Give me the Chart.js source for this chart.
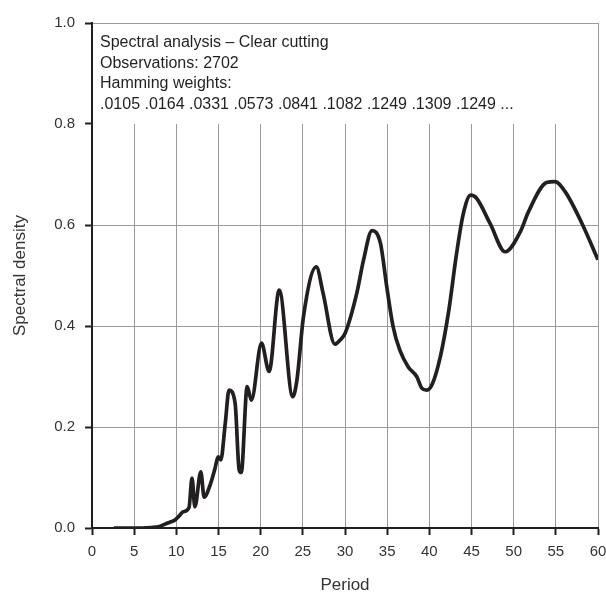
<!DOCTYPE html>
<html>
<head>
<meta charset="utf-8">
<script src="https://cdn.jsdelivr.net/npm/chart.js@4.4.1/dist/chart.umd.min.js"></script>
<style>
    html, body { margin: 0; padding: 0; background: #fff; }
    #wrap { width: 606px; height: 594px; position: relative; }
</style>
</head>
<body>
<div id="wrap"><canvas id="chartJS1"></canvas></div>
<script>
// period (x) and spectral density (y)
var periods = [2.6, 4, 5, 6, 7, 8, 8.7, 9.3, 9.85, 10.4, 10.8, 11.5, 11.86, 12.2, 12.9, 13.3, 14.0, 14.6, 14.95, 15.27,
    15.8, 16.25, 16.97, 17.45, 17.7, 18.4, 18.9, 20.1, 21.0, 22.2, 23.8, 24.3, 25.07, 26.6, 27.4, 28.8, 29.4, 30.0,
    31.4, 32.2, 33.2, 34.2, 34.95, 35.7, 36.5, 37.5, 38.5, 39.1, 39.7, 40.3, 41.3, 42.3, 43.2, 44.0, 44.9, 45.6,
    47.2, 49.0, 50.8, 51.75, 53.9, 54.9, 56.1, 58.1, 60.0];
var density = [0.000, 0.000, 0.000, 0.000, 0.001, 0.003, 0.008, 0.012, 0.016, 0.025, 0.032, 0.040, 0.099, 0.042, 0.111, 0.061, 0.085, 0.119, 0.141, 0.135,
    0.207, 0.273, 0.247, 0.115, 0.110, 0.280, 0.253, 0.366, 0.310, 0.471, 0.260, 0.293, 0.418, 0.517, 0.465, 0.364, 0.372, 0.385,
    0.465, 0.531, 0.589, 0.564, 0.478, 0.399, 0.352, 0.319, 0.300, 0.277, 0.273, 0.283, 0.339, 0.430, 0.540, 0.620, 0.659, 0.653,
    0.603, 0.547, 0.587, 0.626, 0.684, 0.686, 0.666, 0.603, 0.531];

var xTickStep = 5;
var yTickStep = 0.2;

var noteLines = [
    'Spectral analysis \u2013 Clear cutting',
    'Observations: 2702',
    'Hamming weights:',
    '.0105 .0164 .0331 .0573 .0841 .1082 .1249 .1309 .1249 ...'
];

var inkColor = '#231f20';
var gridColor = '#9a9a9a';
var fontFamily = '"Liberation Sans", Arial, sans-serif';

// build the point list for chart.js
var points = [];
for (var i = 0; i < periods.length; i++) {
    points.push({ x: periods[i], y: density[i] });
}

// blanks the grid above 0.8 and writes the note box
var notePlugin = {
    id: 'noteBox',
    beforeDatasetsDraw: function (chart) {
        var ctx = chart.ctx;
        var area = chart.chartArea;
        var yCut = chart.scales.y.getPixelForValue(0.8);
        ctx.save();
        ctx.fillStyle = '#ffffff';
        ctx.fillRect(area.left + 1, area.top + 1, area.right - area.left - 1, yCut - area.top - 1);
        ctx.fillStyle = inkColor;
        ctx.font = '16px ' + fontFamily;
        ctx.textBaseline = 'alphabetic';
        ctx.textAlign = 'left';
        for (var k = 0; k < noteLines.length; k++) {
            ctx.fillText(noteLines[k], area.left + 8, area.top + 24 + k * 20.5);
        }
        ctx.restore();
    }
};

var ctx1 = document.getElementById('chartJS1').getContext('2d');
var chart1 = new Chart(ctx1, {
    type: 'line',
    data: {
        datasets: [{
            data: points,
            borderColor: inkColor,
            borderWidth: 3.7,
            pointRadius: 0,
            fill: false,
            cubicInterpolationMode: 'monotone'
        }]
    },
    options: {
        responsive: true,
        maintainAspectRatio: false,
        animation: false,
        layout: {
            padding: { top: 23, right: 0, bottom: 0, left: 0 }
        },
        plugins: {
            legend: { display: false },
            tooltip: { enabled: false }
        },
        scales: {
            x: {
                type: 'linear',
                min: 0,
                max: 60,
                afterFit: function (scale) {
                    scale.height = 66;
                    scale.paddingRight = 8; // let the "60" sit right at the edge
                },
                ticks: {
                    stepSize: xTickStep,
                    color: '#333333',
                    padding: 8,
                    maxRotation: 0,
                    font: { family: fontFamily, size: 15 }
                },
                grid: {
                    color: gridColor,
                    lineWidth: 1,
                    tickColor: inkColor,
                    tickWidth: 2,
                    tickLength: 7
                },
                border: { color: inkColor, width: 2 },
                title: {
                    display: true,
                    text: 'Period',
                    color: '#333333',
                    padding: { top: 0, bottom: 0 },
                    font: { family: fontFamily, size: 17, lineHeight: 1 }
                }
            },
            y: {
                min: 0,
                max: 1,
                afterFit: function (scale) { scale.width = 92; },
                ticks: {
                    stepSize: yTickStep,
                    color: '#333333',
                    padding: 10,
                    font: { family: fontFamily, size: 15 },
                    callback: function (v) { return v.toFixed(1); }
                },
                grid: {
                    color: gridColor,
                    lineWidth: 1,
                    tickColor: inkColor,
                    tickWidth: 2,
                    tickLength: 7
                },
                border: { color: inkColor, width: 2 },
                title: {
                    display: true,
                    text: 'Spectral density',
                    color: '#333333',
                    padding: { top: 12, bottom: 0 },
                    font: { family: fontFamily, size: 17, lineHeight: 1 }
                }
            }
        }
    },
    plugins: [notePlugin]
});
</script>
</body>
</html>
